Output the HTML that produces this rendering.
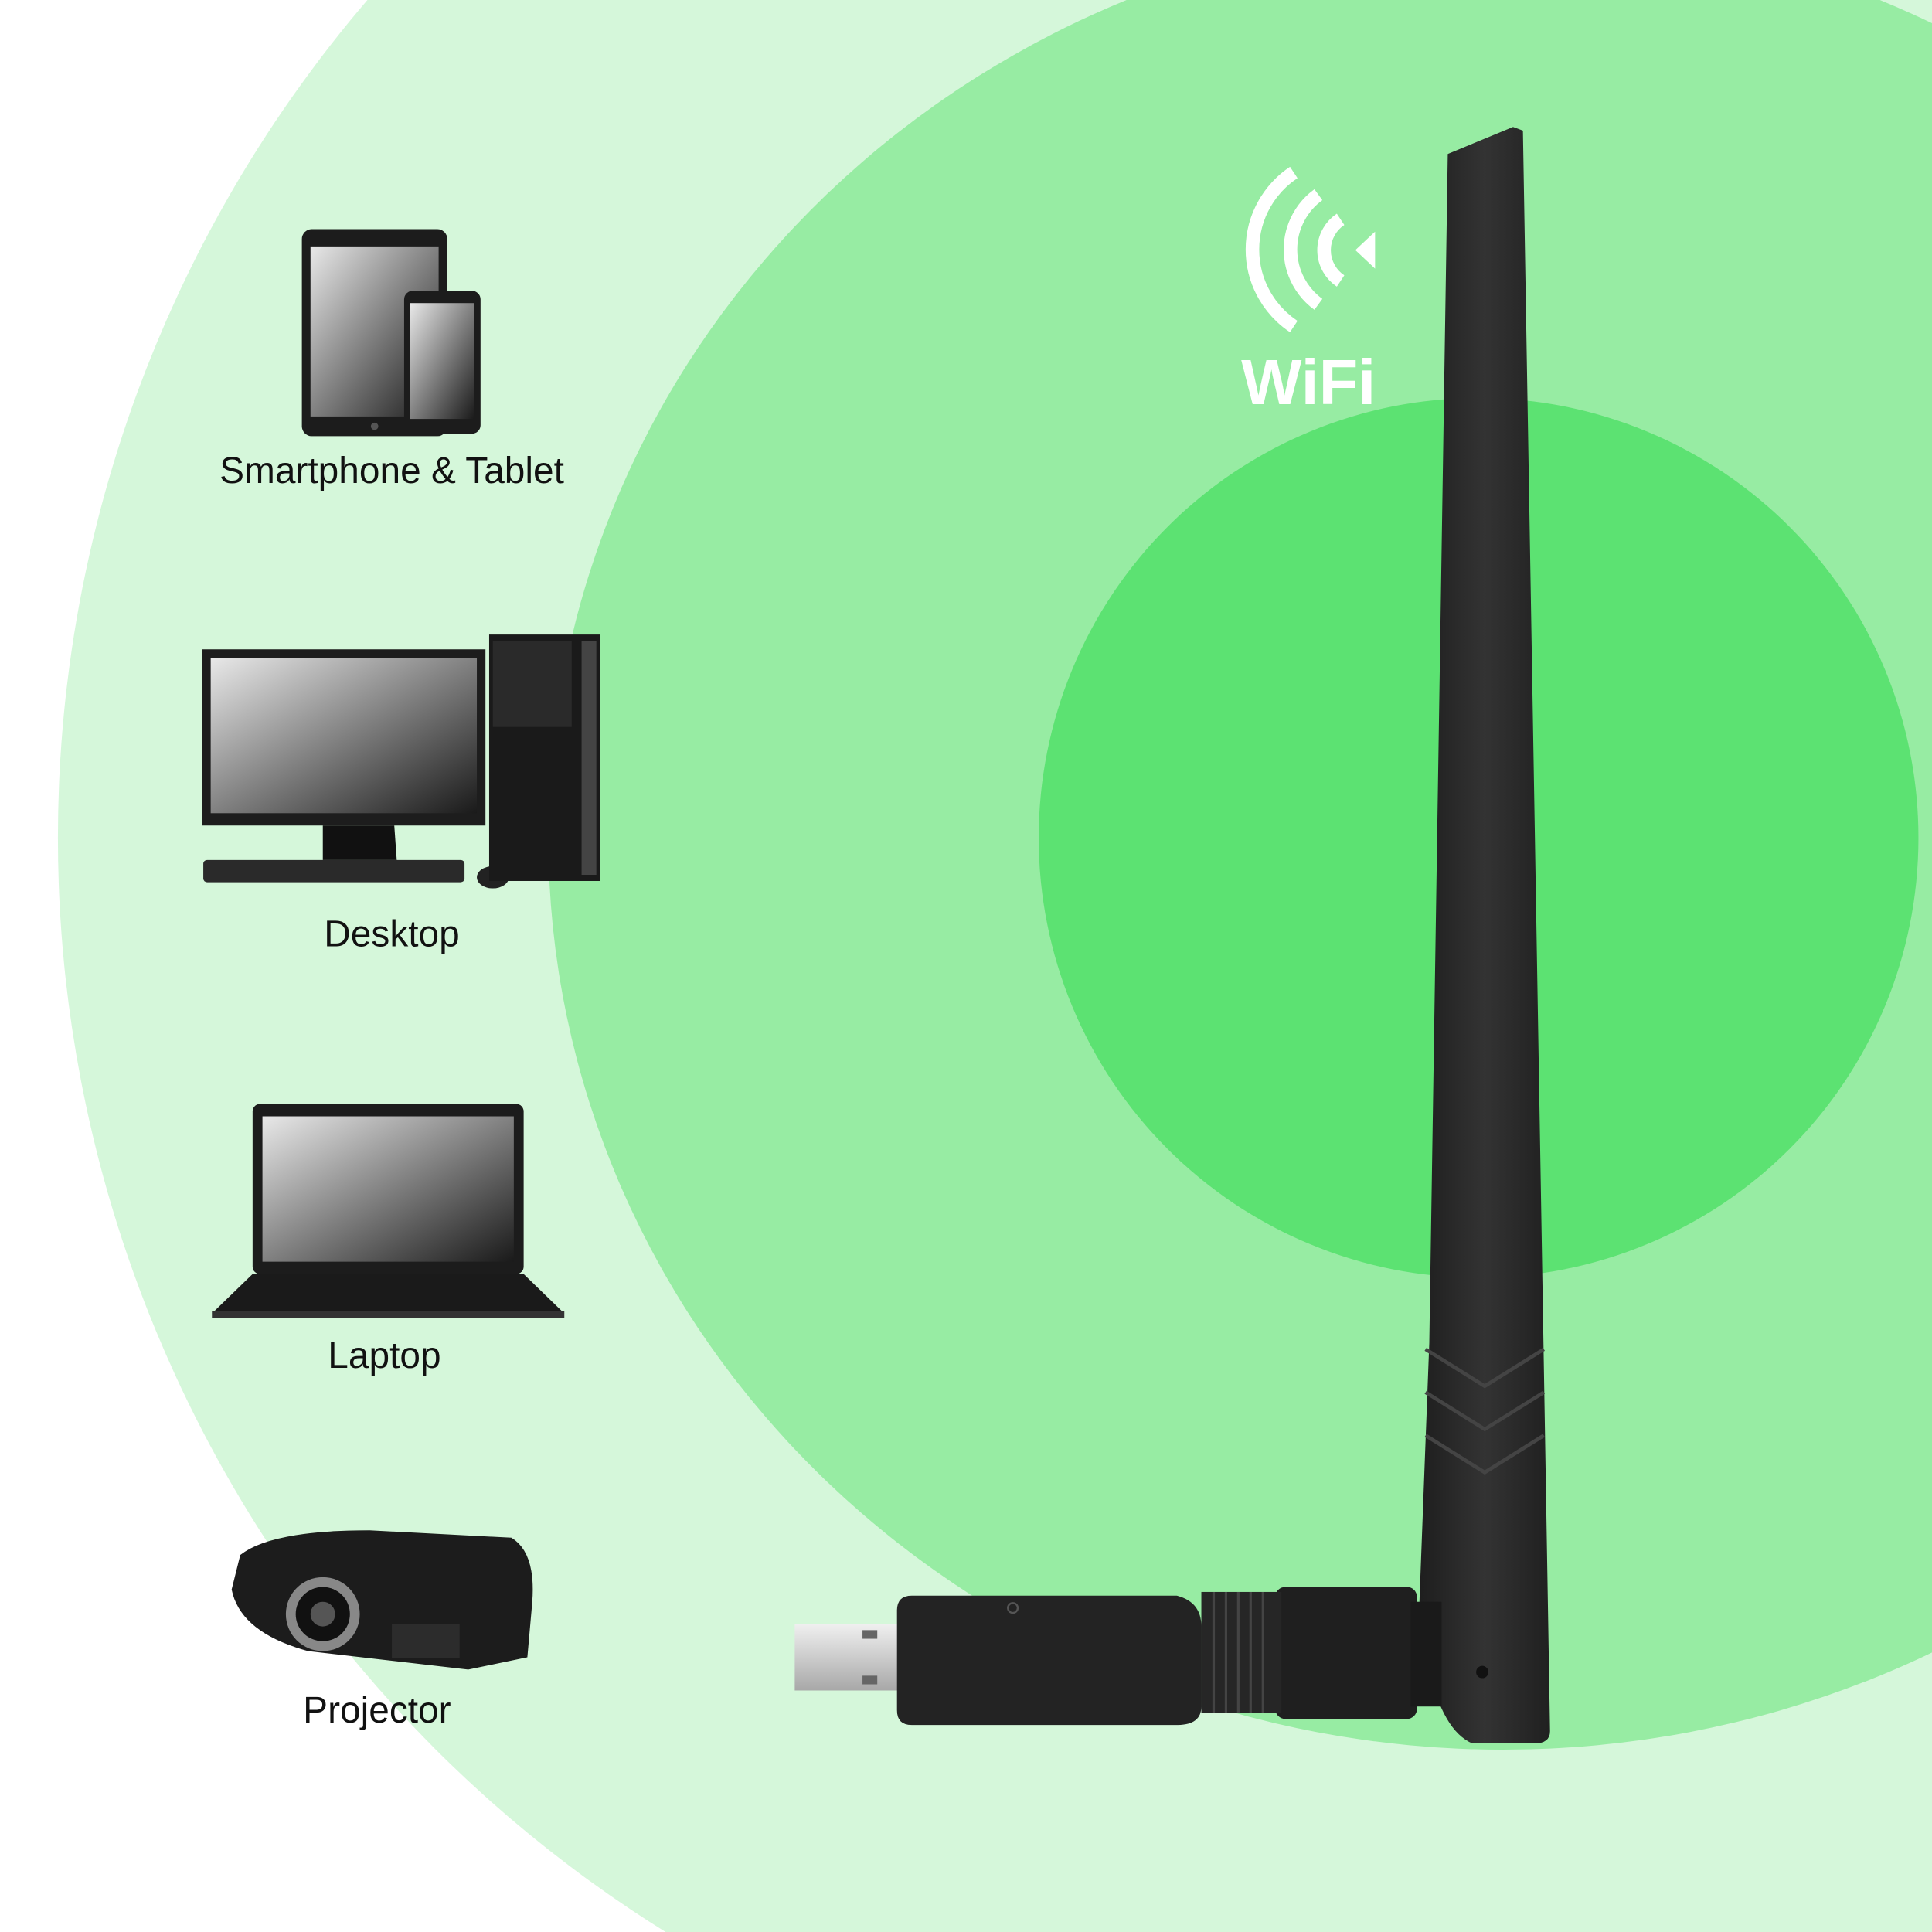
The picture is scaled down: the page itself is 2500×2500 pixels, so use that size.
<!DOCTYPE html>
<html><head><meta charset="utf-8"><style>
html,body{margin:0;padding:0;background:#fff;width:2500px;height:2500px;overflow:hidden}
svg{display:block}
</style></head><body>
<svg width="2500" height="2500" viewBox="0 0 1568 1568" xmlns="http://www.w3.org/2000/svg">
<defs>
<linearGradient id="scr" x1="0" y1="0" x2="1" y2="1">
<stop offset="0" stop-color="#e8e8e8"/><stop offset="1" stop-color="#1a1a1a"/></linearGradient>
<linearGradient id="ant" x1="0" y1="0" x2="1" y2="0">
<stop offset="0" stop-color="#1e1e1e"/><stop offset="0.5" stop-color="#333"/><stop offset="1" stop-color="#202020"/></linearGradient>
<linearGradient id="usb" x1="0" y1="0" x2="0" y2="1">
<stop offset="0" stop-color="#f0f0f0"/><stop offset="1" stop-color="#a8a8a8"/></linearGradient>
</defs>
<rect width="1568" height="1568" fill="#fff"/>
<circle cx="1093" cy="680" r="1046" fill="#d5f7da"/>
<ellipse cx="1220" cy="680" rx="775" ry="740" fill="#97eca3"/>
<circle cx="1200" cy="680" r="357" fill="#5ce272"/>

<g fill="none" stroke="#fff" stroke-linecap="butt">
<path d="M1050 140 A75 75 0 0 0 1050 265" stroke-width="11"/>
<path d="M1070 158 A55 55 0 0 0 1070 247" stroke-width="11"/>
<path d="M1088 178 A30 30 0 0 0 1088 228" stroke-width="11"/>
</g>
<path d="M1100 203 L1116 188 L1116 218 Z" fill="#fff"/>
<text x="1062" y="328" font-family="Liberation Sans, sans-serif" font-weight="bold" font-size="52" fill="#fff" text-anchor="middle">WiFi</text>

<path d="M1175 125 L1228 103 L1236 106 L1258 1405 Q1258 1415 1245 1415 L1195 1415 Q1160 1400 1152 1300 L1160 1090 Z" fill="url(#ant)"/>
<g stroke="#444" stroke-width="3" fill="none">
<path d="M1157 1095 L1205 1125 L1253 1095"/>
<path d="M1157 1130 L1205 1160 L1253 1130"/>
<path d="M1157 1165 L1205 1195 L1253 1165"/>
</g>
<circle cx="1203" cy="1357" r="5" fill="#111"/>
<rect x="1035" y="1288" width="115" height="107" rx="8" fill="#1f1f1f"/>
<rect x="975" y="1292" width="65" height="98" fill="#262626"/>
<g stroke="#444" stroke-width="2">
<line x1="985" y1="1292" x2="985" y2="1390"/><line x1="995" y1="1292" x2="995" y2="1390"/>
<line x1="1005" y1="1292" x2="1005" y2="1390"/><line x1="1015" y1="1292" x2="1015" y2="1390"/>
<line x1="1025" y1="1292" x2="1025" y2="1390"/></g>
<rect x="1145" y="1300" width="25" height="85" fill="#1a1a1a"/>
<rect x="645" y="1318" width="90" height="54" fill="url(#usb)"/>
<rect x="700" y="1323" width="12" height="7" fill="#666"/><rect x="700" y="1360" width="12" height="7" fill="#666"/>
<path d="M740 1295 L955 1295 Q975 1300 975 1320 L975 1385 Q975 1400 955 1400 L740 1400 Q728 1400 728 1388 L728 1307 Q728 1295 740 1295 Z" fill="#232323"/>
<circle cx="822" cy="1305" r="4" fill="none" stroke="#555" stroke-width="1.5"/>

<rect x="245" y="186" width="118" height="168" rx="8" fill="#1c1c1c"/>
<rect x="252" y="200" width="104" height="138" fill="url(#scr)"/>
<circle cx="304" cy="346" r="3" fill="#555"/>
<rect x="328" y="236" width="62" height="116" rx="7" fill="#1c1c1c"/>
<rect x="333" y="246" width="52" height="94" fill="url(#scr)"/>
<text x="318" y="392" font-family="Liberation Sans, sans-serif" font-size="30" fill="#111" text-anchor="middle">Smartphone &amp; Tablet</text>

<rect x="164" y="527" width="230" height="143" fill="#1d1d1d"/>
<rect x="171" y="534" width="216" height="126" fill="url(#scr)"/>
<path d="M262 670 L320 670 L322 698 L262 698 Z" fill="#111"/>
<rect x="165" y="698" width="212" height="18" rx="3" fill="#2a2a2a"/>
<ellipse cx="400" cy="712" rx="13" ry="9" fill="#222"/>
<rect x="397" y="515" width="90" height="200" fill="#1a1a1a"/>
<rect x="400" y="520" width="64" height="70" fill="#2a2a2a"/>
<rect x="472" y="520" width="12" height="190" fill="#444"/>
<text x="318" y="768" font-family="Liberation Sans, sans-serif" font-size="30" fill="#111" text-anchor="middle">Desktop</text>

<rect x="205" y="896" width="220" height="138" rx="6" fill="#1c1c1c"/>
<rect x="213" y="906" width="204" height="118" fill="url(#scr)"/>
<path d="M205 1034 L425 1034 L458 1066 L172 1066 Z" fill="#1a1a1a"/>
<rect x="172" y="1064" width="286" height="6" fill="#333"/>
<text x="312" y="1110" font-family="Liberation Sans, sans-serif" font-size="30" fill="#111" text-anchor="middle">Laptop</text>

<path d="M195 1262 Q220 1242 300 1242 L415 1248 Q435 1260 432 1300 L428 1345 L380 1355 L250 1340 Q195 1325 188 1290 Z" fill="#1c1c1c"/>
<circle cx="262" cy="1310" r="30" fill="#888"/>
<circle cx="262" cy="1310" r="22" fill="#111"/>
<circle cx="262" cy="1310" r="10" fill="#555"/>
<rect x="318" y="1318" width="55" height="28" fill="#2c2c2c"/>
<text x="306" y="1398" font-family="Liberation Sans, sans-serif" font-size="30" fill="#111" text-anchor="middle">Projector</text>
</svg>
</body></html>
